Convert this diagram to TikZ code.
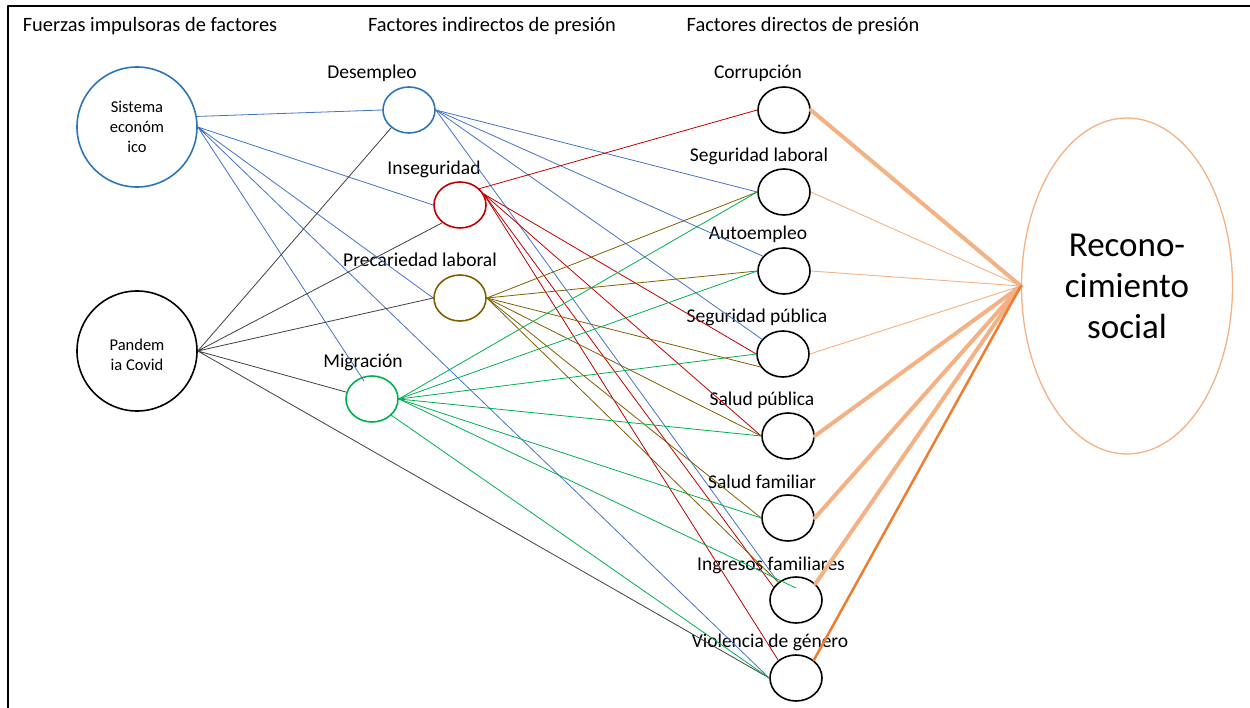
\documentclass[tikz,border=0pt]{standalone}
\usepackage{fontspec}
\setmainfont{Carlito}
\usetikzlibrary{shapes.geometric}
\definecolor{azul}{HTML}{2E75B6}
\definecolor{lazul}{HTML}{4472C4}
\definecolor{rojo}{HTML}{C00000}
\definecolor{oliva}{HTML}{7F6000}
\definecolor{verde}{HTML}{00B050}
\definecolor{naranja}{HTML}{F4B183}
\definecolor{naranjo}{HTML}{ED7D31}
\begin{document}
\begin{tikzpicture}[x=1pt,y=-1pt, line join=round, line cap=round,
	font=\fontsize{19.5}{23}\selectfont,
	chico/.style={ellipse,draw,line width=1.6pt,minimum width=52pt,minimum height=46pt,inner sep=0pt},
	grande/.style={circle,draw,line width=1.6pt,minimum size=120pt,inner sep=0pt,align=center,font=\fontsize{16.5}{20}\selectfont},
	interior/.style={inner sep=0pt,align=center,font=\fontsize{16.5}{20}\selectfont},
	etq/.style={anchor=base,inner sep=0pt},
	tit/.style={anchor=base,inner sep=0pt,font=\fontsize{20.4}{24}\selectfont},
	fino/.style={line width=0.8pt}]
	\useasboundingbox (0,0) rectangle (1250,708);
	\draw[line width=2pt] (8,720)--(8,6)--(1260,6);
	\node[tit] (t1) at (150,32) {Fuerzas impulsoras de factores};
	\node[tit] (t2) at (492,32) {Factores indirectos de presión};
	\node[tit] (t3) at (803,32) {Factores directos de presión};
	\node[etq] (l1) at (372,79) {Desempleo};
	\node[etq] (l2) at (434,175) {Inseguridad};
	\node[etq] (l3) at (420,267) {Precariedad laboral};
	\node[etq] (l4) at (363,368) {Migración};
	\node[etq] (l5) at (758,79) {Corrupción};
	\node[etq] (l6) at (759,162) {Seguridad laboral};
	\node[etq] (l7) at (758,240) {Autoempleo};
	\node[etq] (l8) at (757,323) {Seguridad pública};
	\node[etq] (l9) at (762,406) {Salud pública};
	\node[etq] (l10) at (762,488) {Salud familiar};
	\node[etq] (l11) at (771,570) {Ingresos familiares};
	\node[etq] (l12) at (770,647) {Violencia de género};
	\node[grande,draw=azul] (se) at (137,127) {Sistema\\económ\\ico};
	\node[grande] (pc) at (137,351) {};
	\node[interior] (pct) at (137,355) {Pandem\\ia Covid};
	\node[chico,draw=azul] (des) at (409,110) {};
	\node[chico,draw=rojo] (ins) at (460,205) {};
	\node[chico,draw=oliva] (pre) at (460,298) {};
	\node[chico,draw=verde] (mig) at (372,399) {};
	\node[chico] (cor) at (784,110) {};
	\node[chico] (sla) at (784,192) {};
	\node[chico] (aut) at (784,271) {};
	\node[chico] (spu) at (783,354) {};
	\node[chico] (sal) at (788,436) {};
	\node[chico] (sfa) at (788,518) {};
	\node[chico] (ing) at (796,600) {};
	\node[chico] (vio) at (796,678) {};
	\node[ellipse,draw=naranja,line width=1.3pt,minimum width=211pt,minimum height=336pt,inner sep=0pt,align=center,font=\fontsize{35}{41}\selectfont] (rs) at (1127,286) {Recono-\\cimiento\\social};
	\draw[fino,lazul] (se.10)--(des.west) (se.east)--(ins.west) (se.east)--(pre.west) (se.east)--([xshift=-8pt,yshift=18pt]mig.center) (se.east)--(vio.west);
	\draw[fino,black!75] (pc.east)--(des.225) (pc.east)--(ins.225) (pc.east)--(pre.west) (pc.east)--(mig.165) (pc.east)--(vio.west);
	\foreach \b in {sla.west,aut.145,spu.145,ing.135}
		\draw[fino,lazul] (des.east)--(\b);
	\draw[fino,rojo] (ins.40)--(cor.west);
	\foreach \b in {spu.west,sal.west,ing.150,vio.135}
		\draw[fino,rojo] (ins.25)--(\b);
	\foreach \b in {sla.west,aut.west,spu.210,sal.west,sfa.west,ing.135}
		\draw[fino,oliva] (pre.east)--(\b);
	\foreach \b in {sla.west,aut.west,spu.west,sal.west,sfa.west}
		\draw[fino,verde] (mig.east)--(\b);
	\draw[fino,verde] (mig.east)--([yshift=12pt]ing.center) (mig.320)--(vio.west);
	\foreach \a in {cor.east,sal.east,sfa.east,ing.40}
		\draw[line width=4pt,naranja] (\a)--(rs.west);
	\foreach \a in {sla.east,aut.east,spu.east}
		\draw[line width=0.9pt,naranja] (\a)--(rs.west);
	\draw[line width=2.5pt,naranjo] (vio.45)--(rs.west);
\end{tikzpicture}
\end{document}
